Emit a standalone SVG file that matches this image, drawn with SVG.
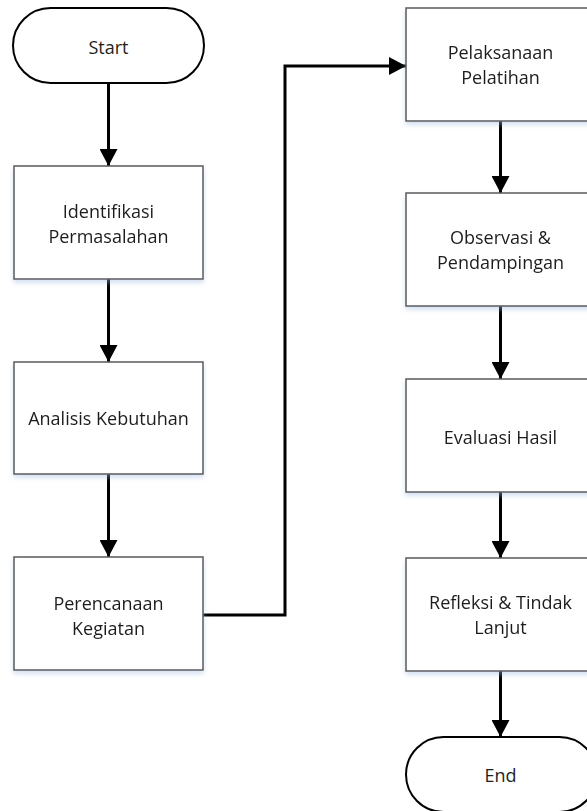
<svg xmlns="http://www.w3.org/2000/svg" width="587" height="811" viewBox="0 0 587 811">
  <style>
    .box { fill: #ffffff; stroke: #5a5a5a; stroke-width: 1.5; }
    .term { fill: #ffffff; stroke: #000000; stroke-width: 2; }
    .lbl { font-family: "Open Sans", "Liberation Sans", sans-serif; font-size: 18px; fill: #1e1e1e; text-anchor: middle; }
    .conn { fill: none; stroke: #000000; stroke-width: 3; }
  </style>
  <defs>
    <marker id="arrow" markerUnits="userSpaceOnUse" markerWidth="18" markerHeight="18" refX="17" refY="9" orient="auto">
      <path d="M0,0 L17,9 L0,18 Z" fill="#000000"/>
    </marker>
    <filter id="shadow" x="-10%" y="-10%" width="120%" height="130%">
      <feGaussianBlur in="SourceAlpha" stdDeviation="2.5" result="b"/>
      <feOffset in="b" dx="0" dy="3" result="o"/>
      <feFlood flood-color="#9fb8e0" flood-opacity="0.45"/>
      <feComposite in2="o" operator="in" result="s"/>
      <feMerge><feMergeNode in="s"/><feMergeNode in="SourceGraphic"/></feMerge>
    </filter>
  </defs>

  <rect width="587" height="811" fill="#ffffff"/>

  <g id="connectors">
    <line class="conn" x1="108.5" y1="83" x2="108.5" y2="166" marker-end="url(#arrow)"/>
    <line class="conn" x1="108.5" y1="279" x2="108.5" y2="362" marker-end="url(#arrow)"/>
    <line class="conn" x1="108.5" y1="474" x2="108.5" y2="557" marker-end="url(#arrow)"/>
    <path class="conn" d="M203,615 H285 V66 H406" marker-end="url(#arrow)"/>
    <line class="conn" x1="500.5" y1="121" x2="500.5" y2="193" marker-end="url(#arrow)"/>
    <line class="conn" x1="500.5" y1="306" x2="500.5" y2="379" marker-end="url(#arrow)"/>
    <line class="conn" x1="500.5" y1="492" x2="500.5" y2="558" marker-end="url(#arrow)"/>
    <line class="conn" x1="500.5" y1="671" x2="500.5" y2="737" marker-end="url(#arrow)"/>
  </g>

  <g id="start">
    <rect class="term" x="13" y="8" width="191" height="75" rx="37.5" ry="37.5"/>
    <text class="lbl" x="108.5" y="53.5">Start</text>
  </g>

  <g id="identifikasi" filter="url(#shadow)">
    <rect class="box" x="14" y="166" width="189" height="113"/>
    <text class="lbl" x="108.5" y="218">Identifikasi</text>
    <text class="lbl" x="108.5" y="243">Permasalahan</text>
  </g>

  <g id="analisis" filter="url(#shadow)">
    <rect class="box" x="14" y="362" width="189" height="112"/>
    <text class="lbl" x="108.5" y="424.5">Analisis Kebutuhan</text>
  </g>

  <g id="perencanaan" filter="url(#shadow)">
    <rect class="box" x="14" y="557" width="189" height="113"/>
    <text class="lbl" x="108.5" y="609.5">Perencanaan</text>
    <text class="lbl" x="108.5" y="634.5">Kegiatan</text>
  </g>

  <g id="pelaksanaan" filter="url(#shadow)">
    <rect class="box" x="406" y="8" width="189" height="113"/>
    <text class="lbl" x="500.5" y="58.5">Pelaksanaan</text>
    <text class="lbl" x="500.5" y="83.5">Pelatihan</text>
  </g>

  <g id="observasi" filter="url(#shadow)">
    <rect class="box" x="406" y="193" width="189" height="113"/>
    <text class="lbl" x="500.5" y="243.5">Observasi &amp;</text>
    <text class="lbl" x="500.5" y="268.5">Pendampingan</text>
  </g>

  <g id="evaluasi" filter="url(#shadow)">
    <rect class="box" x="406" y="379" width="189" height="113"/>
    <text class="lbl" x="500.5" y="443.5">Evaluasi Hasil</text>
  </g>

  <g id="refleksi" filter="url(#shadow)">
    <rect class="box" x="406" y="558" width="189" height="113"/>
    <text class="lbl" x="500.5" y="608.5">Refleksi &amp; Tindak</text>
    <text class="lbl" x="500.5" y="633.5">Lanjut</text>
  </g>

  <g id="end">
    <rect class="term" x="406" y="737" width="191" height="75" rx="37.5" ry="37.5"/>
    <text class="lbl" x="500.5" y="781.5">End</text>
  </g>
</svg>
